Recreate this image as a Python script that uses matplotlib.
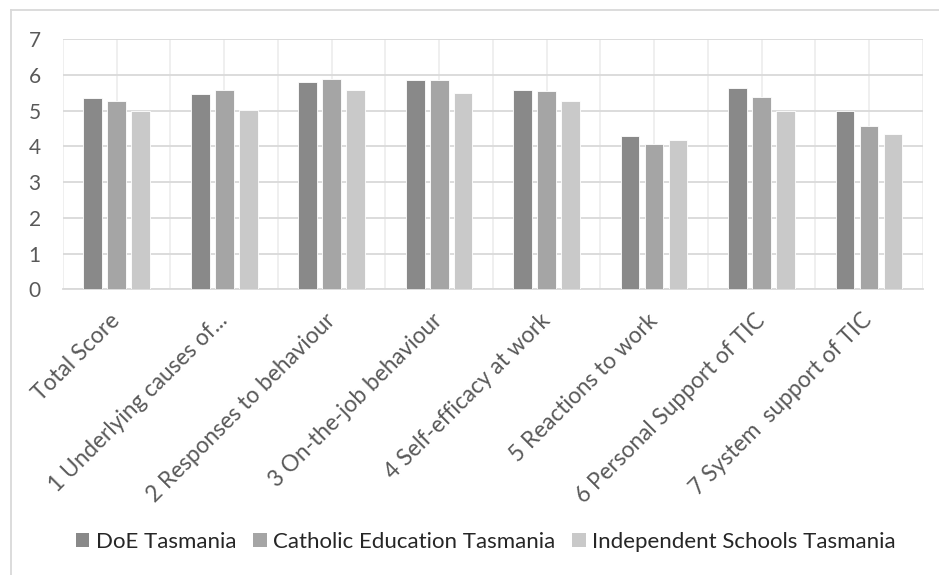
import numpy as np
import matplotlib
matplotlib.use('Agg')
import matplotlib.pyplot as plt
from matplotlib.lines import Line2D
from matplotlib.patches import Patch

categories = ['Total Score', '1 Underlying causes of...', '2 Responses to behaviour',
              '3 On-the-job behaviour', '4 Self-efficacy at work', '5 Reactions to work',
              '6 Personal Support of TIC', '7 System  support of TIC']
series = ['DoE Tasmania', 'Catholic Education Tasmania', 'Independent Schools Tasmania']
doe = [5.36, 5.46, 5.80, 5.87, 5.59, 4.29, 5.65, 4.98]
catholic = [5.28, 5.59, 5.89, 5.87, 5.56, 4.08, 5.39, 4.58]
independent = [5.00, 5.01, 5.57, 5.50, 5.26, 4.19, 5.00, 4.34]
yticks = [0, 1, 2, 3, 4, 5, 6, 7]

plt.rcParams['font.family'] = ['Lato', 'DejaVu Sans']
COLORS = ['#898989', '#a5a5a5', '#c9c9c9']

fig = plt.figure(figsize=(9.39, 5.75), dpi=100)
ax = fig.add_axes([63 / 939, 1 - 289.3 / 575, (922.7 - 63) / 939, (289.3 - 39.3) / 575])

x = np.arange(len(categories))
w, step = 0.175, 0.223
for i, (vals, c) in enumerate(zip([doe, catholic, independent], COLORS)):
    ax.bar(x + (i - 1) * step, vals, width=w, color=c, edgecolor='white', linewidth=0.6,
           zorder=3, label=series[i])

ax.set_xlim(-0.5, len(categories) - 0.5)
ax.set_ylim(0, 7)
ax.set_yticks(yticks)
ax.set_xticks(x)
ax.set_xticks(np.arange(-0.5, len(categories), 1.0), minor=True)
ax.set_xticklabels(categories, rotation=45, ha='right', va='center', rotation_mode='anchor',
                   fontsize=16.3, color='#595959')
ax.tick_params(axis='y', length=0, pad=16, labelsize=15, labelcolor='#595959')
ax.tick_params(axis='x', which='both', length=0, pad=20)

ax.grid(axis='y', color='#d9d9d9', linewidth=1.3, zorder=0)
ax.grid(axis='x', which='both', color='#eeeeee', linewidth=1.3, zorder=0)
for s in ('top', 'right', 'left'):
    ax.spines[s].set_visible(False)
ax.spines['bottom'].set_color('#d9d9d9')
ax.spines['bottom'].set_linewidth(1.3)
ax.set_axisbelow(True)

handles = [Patch(facecolor=c, edgecolor='none') for c in COLORS]
fig.legend(handles, series, loc='center', bbox_to_anchor=(486 / 939, 1 - 542 / 575), ncol=3,
           frameon=False, fontsize=16, handlelength=0.6, handleheight=0.6,
           handletextpad=0.3, columnspacing=0.75, labelcolor='#262626')

# chart-area frame (only top and left edges are visible in the crop)
fig.add_artist(Line2D([11 / 939, 11 / 939], [0, 1 - 10 / 575], transform=fig.transFigure,
                      color='#d9d9d9', linewidth=1.3))
fig.add_artist(Line2D([11 / 939, 1], [1 - 10 / 575, 1 - 10 / 575], transform=fig.transFigure,
                      color='#d9d9d9', linewidth=1.3))

fig.savefig('out.png', dpi=100, facecolor='white')
